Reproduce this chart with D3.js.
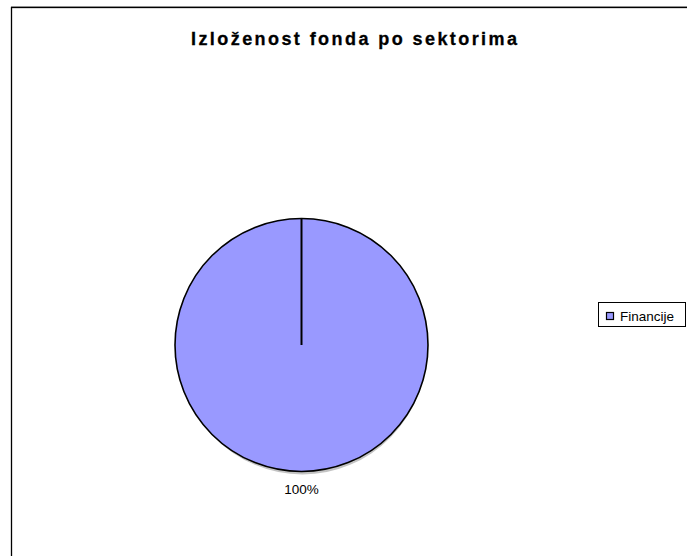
<!DOCTYPE html>
<html><head><meta charset="utf-8">
<script src="https://cdn.jsdelivr.net/npm/d3@7"></script>
<style>html,body{margin:0;padding:0;background:#fff}svg{display:block}</style>
</head><body>
<svg id="c" width="687" height="556"></svg>
<script>
const title = "Izloženost fonda po sektorima";
const categories = ["Financije"];
const values = [100];
const labels = ["100%"];
const colors = ["#9999FF"];

const svg = d3.select("#c");
const font = "Arial, 'Liberation Sans', sans-serif";

// chart border
svg.append("line").attr("x1",11).attr("x2",700).attr("y1",6.5).attr("y2",6.5).attr("stroke","#aaa");
svg.append("rect").attr("x",11.5).attr("y",7.5).attr("width",700).attr("height",600)
  .attr("fill","none").attr("stroke","#000").attr("stroke-width",1.3);

svg.append("text").attr("x",354).attr("y",45).attr("text-anchor","middle")
  .attr("font-family",font).attr("font-weight","bold").attr("font-size",18)
  .attr("stroke","#000").attr("stroke-width",0.3)
  .attr("textLength",326).attr("lengthAdjust","spacing").text(title);

const cx = 301.5, cy = 345, r = 126.5;
const pie = d3.pie().sort(null).value(d=>d);
const arcs = pie(values);
const arc = d3.arc().innerRadius(0).outerRadius(r);
const g = svg.append("g").attr("transform",`translate(${cx},${cy})`);

// shadow
g.append("ellipse").attr("cx",1).attr("cy",3).attr("rx",r-2).attr("ry",r).attr("fill","#888").attr("opacity",0.5);

g.selectAll("path.s").data(arcs).enter().append("path").attr("class","s")
  .attr("d",arc).attr("fill",(d,i)=>colors[i]).attr("stroke","#000").attr("stroke-width",1.6);
g.selectAll("line.r").data(arcs).enter().append("line").attr("class","r")
  .attr("x1",0).attr("y1",0)
  .attr("x2",d=>d3.pointRadial(d.startAngle,r)[0]).attr("y2",d=>d3.pointRadial(d.startAngle,r)[1])
  .attr("stroke","#000").attr("stroke-width",2);

g.selectAll("text.l").data(arcs).enter().append("text").attr("class","l")
  .attr("x",0).attr("y",r+22).attr("text-anchor","middle")
  .attr("font-family",font).attr("font-size",13.5).text((d,i)=>labels[i]);

// legend
const lg = svg.append("g");
lg.append("rect").attr("x",598.5).attr("y",302.5).attr("width",87).attr("height",24)
  .attr("fill","#fff").attr("stroke","#000").attr("stroke-width",1);
categories.forEach((c,i)=>{
  lg.append("rect").attr("x",606.5).attr("y",312.5+i*20).attr("width",7).attr("height",7)
    .attr("fill",colors[i]).attr("stroke","#000").attr("stroke-width",1.2);
  lg.append("text").attr("x",620).attr("y",321+i*20).attr("font-family",font).attr("font-size",13.5).text(c);
});
</script>
</body></html>
